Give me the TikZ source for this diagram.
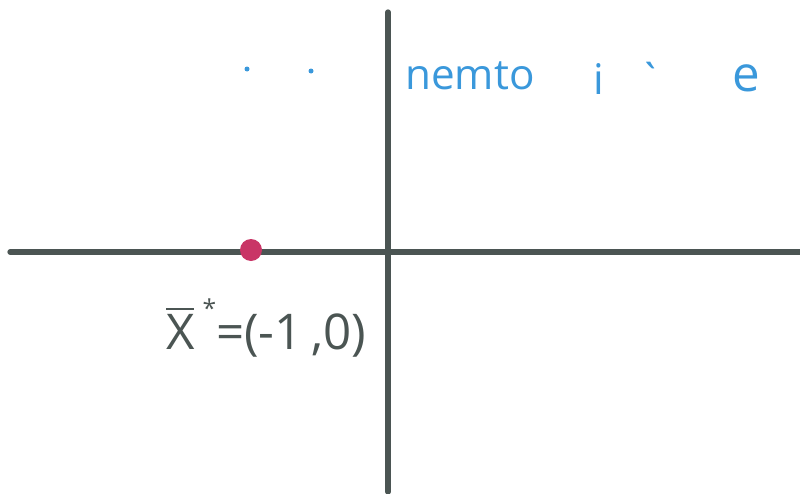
\documentclass[tikz,border=0pt]{standalone}
\usepackage{fontspec}
\setsansfont{Open Sans}
\definecolor{penGray}{HTML}{4B5553}
\definecolor{penBlue}{HTML}{3A98DB}
\definecolor{penRed}{HTML}{C93566}
\begin{document}
\begin{tikzpicture}[x=0.01cm, y=-0.01cm,
    axisline/.style={line width=1.5pt, penGray, line cap=round},
    scribble/.style={penBlue, font=\sffamily\fontsize{12}{14}\selectfont, inner sep=0pt}]
    \useasboundingbox (0,0) rectangle (800,494);

    % axes
    \coordinate (xl) at (10,252);
    \coordinate (xr) at (800,252);
    \coordinate (yt) at (388,12);
    \coordinate (yb) at (388,492);
    \draw[axisline] (xl) -- (xr);
    \draw[axisline] (yt) -- (yb);

    % the point on the axis
    \fill[penRed] (251,250) circle (11);
    \node[penGray, font=\sffamily\fontsize{14}{16}\selectfont, inner sep=0pt] (lbl) at (266,328)
        {$\overline{\mbox{X}}$\,\raisebox{1.2ex}{\scriptsize *}=(-1\,,0)};

    % blue notes
    \fill[penBlue] (247,69) circle (2.5);
    \fill[penBlue] (311,71) circle (2.5);
    \node[scribble] (w1) at (470,76) {nemto};
    \node[scribble] (w2) at (628,78) {i\hspace{0.8em}\textasciigrave};
    \node[scribble, font=\sffamily\fontsize{14}{16}\selectfont] (w3) at (746,78) {e};
\end{tikzpicture}
\end{document}
